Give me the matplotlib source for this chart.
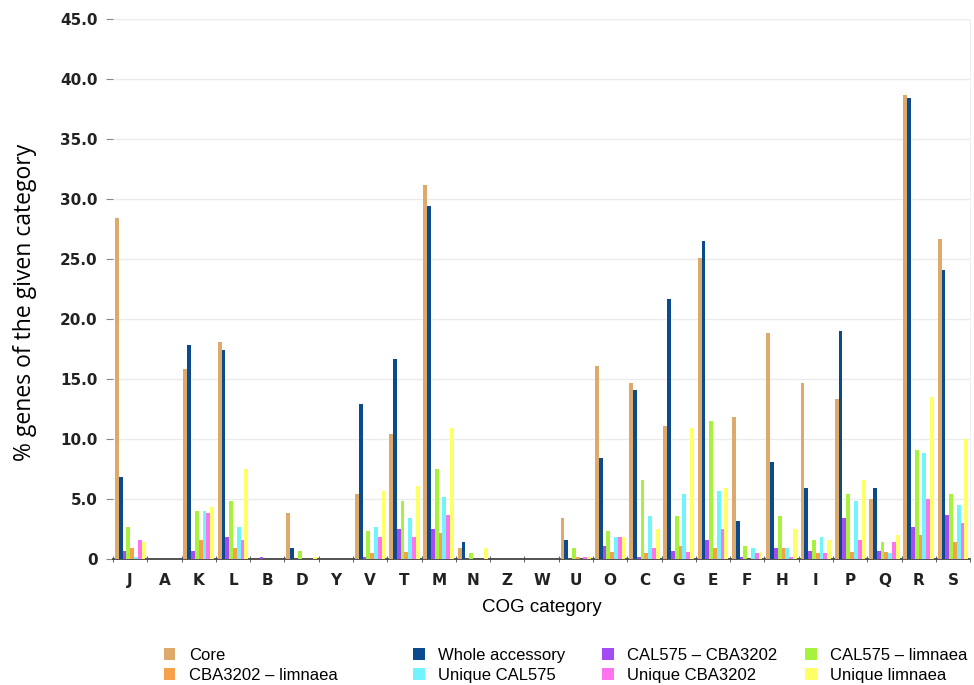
import matplotlib
matplotlib.use('Agg')
import matplotlib.pyplot as plt
import numpy as np

# COG categories
categorias = ['J', 'A', 'K', 'L', 'B', 'D', 'Y', 'V', 'T', 'M', 'N', 'Z', 'W',
              'U', 'O', 'C', 'G', 'E', 'F', 'H', 'I', 'P', 'Q', 'R', 'S']

# % de genes por serie
core = [28.4, 0, 15.8, 18.1, 0, 3.8, 0, 5.4, 10.4, 31.2, 0.9, 0, 0,
        3.4, 16.1, 14.7, 11.1, 25.1, 11.8, 18.8, 14.7, 13.3, 5.0, 38.7, 26.7]
whole_acc = [6.8, 0, 17.8, 17.4, 0, 0.9, 0, 12.9, 16.7, 29.4, 1.4, 0, 0,
             1.6, 8.4, 14.1, 21.7, 26.5, 3.2, 8.1, 5.9, 19.0, 5.9, 38.4, 24.1]
cal_cba = [0.7, 0, 0.7, 1.8, 0.2, 0, 0, 0.2, 2.5, 2.5, 0, 0, 0,
           0, 1.1, 0.2, 0.7, 1.6, 0.2, 0.9, 0.7, 3.4, 0.7, 2.7, 3.7]
cal_lim = [2.7, 0, 4.0, 4.8, 0, 0.7, 0, 2.3, 4.8, 7.5, 0.5, 0, 0,
           0.9, 2.3, 6.6, 3.6, 11.5, 1.1, 3.6, 1.6, 5.4, 1.4, 9.1, 5.4]
cba_lim = [0.9, 0, 1.6, 0.9, 0, 0, 0, 0.5, 0.6, 2.2, 0, 0, 0,
           0.2, 0.6, 0.5, 1.1, 0.9, 0, 0.9, 0.5, 0.6, 0.6, 2.0, 1.4]
uniq_cal = [0.2, 0, 4.0, 2.7, 0, 0, 0, 2.7, 3.4, 5.2, 0, 0, 0,
            0, 1.8, 3.6, 5.4, 5.7, 0.9, 0.9, 1.8, 4.8, 0.5, 8.8, 4.5]
uniq_cba = [1.6, 0, 3.8, 1.6, 0, 0, 0, 1.8, 1.8, 3.7, 0, 0, 0,
            0.2, 1.8, 0.9, 0.6, 2.5, 0.5, 0.2, 0.5, 1.6, 1.4, 5.0, 3.0]
uniq_lim = [1.4, 0, 4.3, 7.5, 0, 0.2, 0, 5.7, 6.1, 10.9, 0.9, 0, 0,
            0.2, 1.8, 2.5, 10.9, 5.9, 0.6, 2.5, 1.6, 6.6, 2.0, 13.5, 10.0]

series = [core, whole_acc, cal_cba, cal_lim, cba_lim, uniq_cal, uniq_cba, uniq_lim]
nombres = ['Core', 'Whole accessory', 'CAL575 \u2013 CBA3202', 'CAL575 \u2013 limnaea',
           'CBA3202 \u2013 limnaea', 'Unique CAL575', 'Unique CBA3202', 'Unique limnaea']
colores = ['#DDAA6C', '#0C4A8E', '#A24CF2', '#A6F23C',
           '#F7A04C', '#72F4FF', '#FF74EE', '#FFFF66']

fig = plt.figure(figsize=(9.74, 6.85), dpi=100)
ax = fig.add_axes([0.116, 0.184, 0.88, 0.788])

x = np.arange(len(categorias))
w = 0.111
barras = []
for i, (vals, col) in enumerate(zip(series, colores)):
    b = ax.bar(x + (i - 3.5) * w, vals, width=w, color=col, linewidth=0, zorder=3)
    barras.append(b)

ax.set_xlim(-0.5, len(categorias) - 0.5)
ax.set_ylim(0, 45)
ax.set_yticks(np.arange(0, 46, 5))
ax.set_yticklabels(['0'] + ['%.1f' % v for v in np.arange(5, 46, 5)])
ax.yaxis.grid(True, color='#EBEBEB', linewidth=1, zorder=0)

ax.set_xticks(x)
ax.set_xticklabels(categorias)
ax.set_xticks(np.arange(-0.5, len(categorias), 1), minor=True)
ax.tick_params(axis='x', which='major', length=0, pad=10)
ax.tick_params(axis='x', which='minor', length=4, direction='inout', color='#444444')
ax.tick_params(axis='y', length=5, color='#888888', pad=6)
for lbl in ax.get_xticklabels() + ax.get_yticklabels():
    lbl.set_fontweight('bold')
    lbl.set_fontsize(11)
    lbl.set_color('#222222')

for s in ['top', 'left']:
    ax.spines[s].set_visible(False)
ax.spines['right'].set_color('#F0F0F0')
ax.spines['bottom'].set_color('#444444')
ax.spines['bottom'].set_linewidth(1.3)

ax.set_ylabel('% genes of the given category', fontsize=16.5, family='Open Sans')
ax.yaxis.set_label_coords(-0.089, 0.475)
ax.set_xlabel('COG category', fontsize=13.5, family='Liberation Sans', labelpad=8)

# leyenda en 4 columnas con posiciones fijas
col_x = [0.168, 0.424, 0.618, 0.827]
for k in range(4):
    hs = [barras[k], barras[k + 4]]
    ls = [nombres[k], nombres[k + 4]]
    fig.legend(hs, ls, loc='upper left', bbox_to_anchor=(col_x[k], 0.054),
               frameon=False, handlelength=0.7, handleheight=0.7, handletextpad=0.8,
               labelspacing=0.3, borderaxespad=0, borderpad=0,
               prop={'family': 'Liberation Sans', 'size': 12})

plt.savefig('out.png', dpi=100)
plt.close()
